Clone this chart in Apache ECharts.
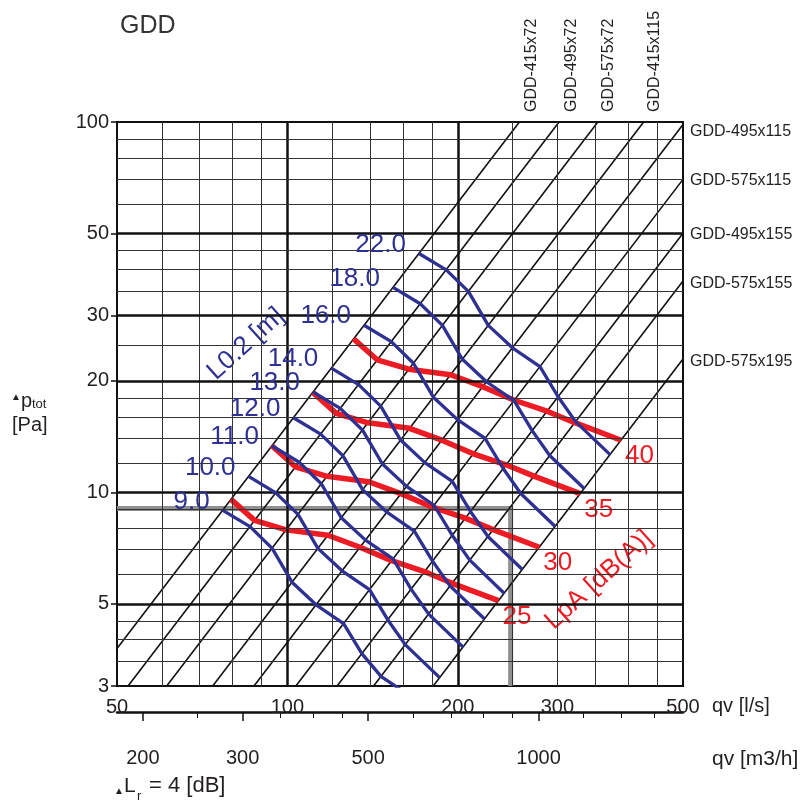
<!DOCTYPE html>
<html><head><meta charset="utf-8">
<script src="https://cdn.jsdelivr.net/npm/echarts@6/dist/echarts.min.js"></script>
<style>html,body{margin:0;padding:0;background:#fff}#c{width:807px;height:800px}</style>
</head><body><div id="c"></div>
<script>
// ---------- axis values ----------
const qTickLabels = [50, 100, 200, 300, 500];
const pTickLabels = [3, 5, 10, 20, 30, 50, 100];
const qGridMinor = [60, 70, 80, 90, 120, 140, 160, 180, 250, 300, 350, 400, 450];
const qGridMajor = [100, 200];
const pGridMinor = [3.5, 4, 4.5, 6, 7, 8, 9, 12, 14, 16, 18, 25, 35, 40, 45, 60, 70, 80, 90];
const pGridMajor = [5, 10, 20, 30, 50];
const m3hMajorTicks = [200, 300, 500, 1000];
const m3hMinorTicks = [250, 350, 400, 450, 600, 700, 800, 900, 1200, 1400, 1600];
const m3hLabels = [200, 300, 500, 1000];

// ---------- GDD model lines (endpoints [qv l/s, dp Pa]) ----------
const gddNames = ['GDD-415x72','GDD-495x72','GDD-575x72','GDD-415x115','GDD-495x115','GDD-575x115','GDD-495x155','GDD-575x155','GDD-575x195'];
const gddLineStart = [[50,3.79],[52.3,3],[61.2,3],[73.8,3],[87.3,3],[103.5,3],[122.4,3],[142,3],[181,3]];
const gddLineEnd   = [[257,100],[302,100],[353.6,100],[426,100],[500,98.4],[500,70],[500,50.1],[500,37.2],[500,22.9]];

// ---------- throw length curves L0.2 [m] ----------
const blueLabels = ['9.0','10.0','11.0','12.0','13.0','14.0','16.0','18.0','22.0'];
const blue9  = [[76.9,8.94],[85.9,8.08],[94.0,7.06],[101.9,5.72],[112.4,4.97],[125.7,4.42],[135.4,3.67],[146.5,3.18],[172.0,2.70]];
const blue10 = [[85.4,11.04],[95.4,9.97],[104.4,8.72],[113.2,7.06],[124.9,6.14],[139.7,5.46],[150.4,4.53],[161.5,3.88],[185.8,3.16]];
const blue11 = [[93.9,13.36],[104.9,12.06],[114.8,10.55],[124.5,8.54],[137.4,7.43],[153.7,6.61],[165.4,5.48],[177.7,4.69],[204.4,3.82]];
const blue12 = [[102.5,15.9],[114.5,14.36],[125.3,12.56],[135.8,10.17],[149.9,8.84],[167.6,7.86],[180.5,6.52],[193.8,5.59],[223.0,4.55]];
const blue13 = [[111.0,18.66],[124.0,16.85],[135.7,14.74],[147.2,11.93],[162.4,10.38],[181.6,9.23],[195.5,7.66],[210.0,6.56],[241.5,5.34]];
const blue14 = [[119.6,21.64],[133.6,19.54],[146.2,17.09],[158.5,13.84],[174.9,12.03],[195.6,10.7],[210.6,8.88],[226.1,7.6],[260.1,6.19]];
const blue16 = [[136.6,28.26],[152.6,25.52],[167.0,22.32],[181.1,18.07],[199.8,15.72],[223.5,13.98],[240.6,11.6],[258.4,9.93],[297.3,8.09]];
const blue18 = [[153.7,35.77],[171.7,32.3],[187.9,28.25],[203.8,22.87],[224.8,19.89],[251.5,17.69],[270.7,14.68],[290.7,12.57],[334.4,10.24]];
const blue22 = [[170.8,44.16],[190.8,39.88],[208.8,34.88],[226.4,28.24],[249.8,24.56],[279.4,21.84],[300.8,18.12],[323.0,15.52],[371.6,12.64]];

// ---------- sound level curves LpA [dB(A)] ----------
const redLabels = ['25','30','35','40'];
const red25 = [[79.5,9.57],[87.5,8.40],[99.5,7.92],[117.9,7.66],[134.4,7.11],[152.8,6.54],[174.6,6.11],[195.5,5.68],[236.0,5.10]];
const red30 = [[93.9,13.36],[103.3,11.72],[117.5,11.05],[139.2,10.68],[158.7,9.92],[180.5,9.12],[206.2,8.52],[230.9,7.93],[278.7,7.11]];
const red35 = [[110.9,18.62],[122.0,16.34],[138.8,15.41],[164.4,14.89],[187.4,13.83],[213.1,12.71],[243.5,11.87],[272.7,11.06],[329.1,9.92]];
const red40 = [[130.9,25.97],[144.1,22.8],[163.9,21.5],[194.2,20.77],[221.4,19.29],[251.7,17.73],[287.6,16.56],[322.0,15.42],[388.7,13.83]];

// ---------- example reading path ----------
const examplePath = [[50,9.05],[248,9.05],[248,3]];

const blueCurves = [blue9, blue10, blue11, blue12, blue13, blue14, blue16, blue18, blue22];
const redCurves = [red25, red30, red35, red40];

const FONT = '"Liberation Sans", Arial, Helvetica, sans-serif';
const BLUE = '#2e3192', RED = '#ed1c24', INK = '#231f20';

const chart = echarts.init(document.getElementById('c'));

const gridLineData = [].concat(
  qGridMinor.map(v => ({xAxis: v, lineStyle: {color: '#333', width: 1, type: 'solid'}})),
  qGridMajor.map(v => ({xAxis: v, lineStyle: {color: '#111', width: 2.5, type: 'solid'}})),
  pGridMinor.map(v => ({yAxis: v, lineStyle: {color: '#333', width: 1, type: 'solid'}})),
  pGridMajor.map(v => ({yAxis: v, lineStyle: {color: '#111', width: 2.5, type: 'solid'}}))
);

const series = [];
series.push({
  type: 'line', xAxisIndex: 0, yAxisIndex: 0, data: [], silent: true, z: 1,
  markLine: {silent: true, symbol: ['none', 'none'], label: {show: false}, animation: false, data: gridLineData}
});
series.push({
  type: 'line', xAxisIndex: 0, yAxisIndex: 0, data: examplePath, symbol: 'none', silent: true, z: 2,
  lineStyle: {color: '#8f8f8f', width: 5, join: 'miter'}
});
gddNames.forEach((n, i) => {
  series.push({
    type: 'line', name: n, xAxisIndex: 0, yAxisIndex: 0, data: [gddLineStart[i], gddLineEnd[i]],
    symbol: 'none', silent: true, z: 3, lineStyle: {color: '#111', width: 1.6}
  });
});
redCurves.forEach((pts, i) => {
  series.push({
    type: 'line', name: 'LpA ' + redLabels[i], xAxisIndex: 0, yAxisIndex: 0, data: pts,
    symbol: 'none', silent: true, z: 4, clip: true,
    lineStyle: {color: RED, width: 5.5, cap: 'butt', join: 'round'},
    endLabel: {show: true, formatter: redLabels[i], color: RED, fontSize: 26, fontFamily: FONT, offset: [-4, 16]}
  });
});
blueCurves.forEach((pts, i) => {
  series.push({
    type: 'line', name: 'L0.2 ' + blueLabels[i], xAxisIndex: 0, yAxisIndex: 0, data: pts,
    symbol: 'none', silent: true, z: 5, clip: true,
    lineStyle: {color: BLUE, width: 3.3, join: 'round'},
    markPoint: {
      symbol: 'circle', symbolSize: 0.1, silent: true, itemStyle: {color: 'rgba(0,0,0,0)'},
      label: {show: true, position: 'left', distance: 13, offset: [0, -9], formatter: blueLabels[i],
              color: BLUE, fontSize: 26, fontFamily: FONT},
      data: [{coord: pts[0]}]
    }
  });
});

const rightLabelY = [132, 181, 235, 284, 362];
const topLabelX = [531.5, 571.5, 608.5, 655];
const graphics = [];
gddNames.slice(0, 4).forEach((n, i) => {
  graphics.push({type: 'text', x: topLabelX[i], y: 112, rotation: Math.PI / 2, silent: true,
    style: {text: n, fill: INK, font: '16px ' + FONT, textAlign: 'left', textVerticalAlign: 'middle'}});
});
gddNames.slice(4).forEach((n, i) => {
  graphics.push({type: 'text', x: 690, y: rightLabelY[i], silent: true,
    style: {text: n, fill: INK, font: '16px ' + FONT, textAlign: 'left', textVerticalAlign: 'middle'}});
});
graphics.push(
  {type: 'text', x: 246, y: 344, rotation: 42 * Math.PI / 180, silent: true,
   style: {text: 'L0.2 [m]', fill: BLUE, font: '26px ' + FONT, textAlign: 'center', textVerticalAlign: 'middle'}},
  {type: 'text', x: 599, y: 580, rotation: 42 * Math.PI / 180, silent: true,
   style: {text: 'LpA [dB(A)]', fill: RED, font: '26px ' + FONT, textAlign: 'center', textVerticalAlign: 'middle'}},
  // y axis name
  {type: 'text', x: 16, y: 397, silent: true, style: {text: '▲', fill: INK, font: '10px ' + FONT, textAlign: 'center', textVerticalAlign: 'middle'}},
  {type: 'text', x: 21, y: 401, silent: true, style: {text: 'p', fill: INK, font: '20px ' + FONT, textAlign: 'left', textVerticalAlign: 'middle'}},
  {type: 'text', x: 32, y: 404, silent: true, style: {text: 'tot', fill: INK, font: '13px ' + FONT, textAlign: 'left', textVerticalAlign: 'middle'}},
  {type: 'text', x: 12, y: 425, silent: true, style: {text: '[Pa]', fill: INK, font: '20px ' + FONT, textAlign: 'left', textVerticalAlign: 'middle'}},
  // axis names
  {type: 'text', x: 712, y: 706, silent: true, style: {text: 'qv [l/s]', fill: INK, font: '20px ' + FONT, textAlign: 'left', textVerticalAlign: 'middle'}},
  {type: 'text', x: 712, y: 759, silent: true, style: {text: 'qv [m3/h]', fill: INK, font: '21px ' + FONT, textAlign: 'left', textVerticalAlign: 'middle'}},
  // delta Lr note
  {type: 'text', x: 119, y: 791, silent: true, style: {text: '▲', fill: INK, font: '10px ' + FONT, textAlign: 'center', textVerticalAlign: 'middle'}},
  {type: 'text', x: 124, y: 786, silent: true, style: {text: 'L', fill: INK, font: '21px ' + FONT, textAlign: 'left', textVerticalAlign: 'middle'}},
  {type: 'text', x: 137, y: 796, silent: true, style: {text: 'r', fill: INK, font: '13px ' + FONT, textAlign: 'left', textVerticalAlign: 'middle'}},
  {type: 'text', x: 149, y: 786, silent: true, style: {text: '= 4 [dB]', fill: INK, font: '22px ' + FONT, textAlign: 'left', textVerticalAlign: 'middle'}}
);

const option = {
  animation: false,
  backgroundColor: '#fff',
  textStyle: {fontFamily: FONT},
  title: {text: 'GDD', left: 115, top: 9, textStyle: {fontSize: 25, fontWeight: 'normal', color: '#333', fontFamily: FONT}},
  grid: [
    {left: 117, top: 122, width: 566, height: 564, show: true, borderColor: '#111', borderWidth: 2, backgroundColor: 'transparent'},
    {left: 117, top: 711, width: 566, height: 1, show: false}
  ],
  xAxis: [
    {type: 'log', logBase: 10, min: 50, max: 500, gridIndex: 0, position: 'bottom',
     axisLine: {show: false}, axisTick: {show: false}, splitLine: {show: false}, minorTick: {show: false},
     axisLabel: {customValues: qTickLabels, showMinLabel: true, showMaxLabel: true, hideOverlap: false,
                 fontSize: 20, color: INK, margin: 11, fontFamily: FONT, formatter: v => String(v)}},
    {type: 'log', logBase: 10, min: 180, max: 1800, gridIndex: 1, position: 'bottom',
     axisLine: {show: true, lineStyle: {color: '#111', width: 2.5}},
     axisTick: {show: true, customValues: m3hMajorTicks, length: 9, lineStyle: {color: '#111', width: 1.5}},
     axisLabel: {customValues: m3hLabels, fontSize: 20, color: INK, margin: 36, fontFamily: FONT, formatter: v => String(v)},
     splitLine: {show: false}},
    {type: 'log', logBase: 10, min: 180, max: 1800, gridIndex: 1, position: 'bottom',
     axisLine: {show: false},
     axisTick: {show: true, customValues: m3hMinorTicks, length: 6, lineStyle: {color: '#111', width: 1}},
     axisLabel: {show: false}, splitLine: {show: false}}
  ],
  yAxis: [
    {type: 'log', logBase: 10, min: 3, max: 100, gridIndex: 0,
     axisLine: {show: false}, splitLine: {show: false}, minorTick: {show: false},
     axisTick: {show: true, customValues: pTickLabels, length: 6, lineStyle: {color: '#111', width: 1.5}},
     axisLabel: {customValues: pTickLabels, showMinLabel: true, showMaxLabel: true, hideOverlap: false,
                 fontSize: 20, color: INK, margin: 8, fontFamily: FONT, formatter: v => String(v)}},
    {type: 'value', gridIndex: 1, show: false}
  ],
  series: series,
  graphic: graphics
};
chart.setOption(option);
</script>
</body></html>
